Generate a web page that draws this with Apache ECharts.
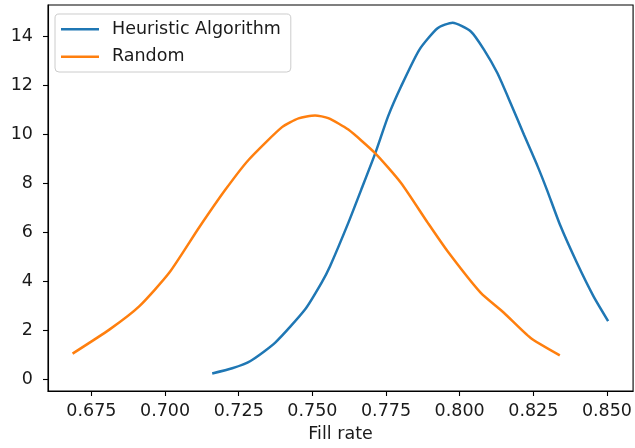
<!DOCTYPE html>
<html>
<head>
<meta charset="utf-8">
<script src="https://cdn.jsdelivr.net/npm/echarts@6/dist/echarts.min.js"></script>
<style>
  html, body { margin: 0; padding: 0; background: #fff; }
  #chart { width: 635px; height: 448px; }
</style>
</head>
<body>
<div id="chart"></div>
<script>
// Density estimates of the fill rate for each strategy
const heuristicX = [0.7160, 0.7228, 0.7290, 0.7374, 0.7475, 0.7531, 0.7560, 0.7622, 0.7666, 0.7714,
                    0.7757, 0.7801, 0.7863, 0.7925, 0.7976, 0.8038, 0.8083, 0.8128, 0.8173, 0.8218,
                    0.8263, 0.8296, 0.8341, 0.8398, 0.8454, 0.8504];
const heuristicY = [0.24, 0.45, 0.75, 1.50, 2.85, 3.94, 4.62, 6.39, 7.75, 9.25,
                    10.74, 11.96, 13.46, 14.34, 14.57, 14.21, 13.46, 12.51, 11.28, 10.00,
                    8.75, 7.75, 6.30, 4.76, 3.40, 2.38];

const randomX = [0.6686, 0.6812, 0.6913, 0.7014, 0.7115, 0.7205, 0.7284, 0.7397, 0.7453, 0.7509,
                 0.7554, 0.7622, 0.7712, 0.7801, 0.7892, 0.7959, 0.8071, 0.8150, 0.8240, 0.8340];
const randomY = [1.05, 2.04, 2.99, 4.35, 6.19, 7.75, 8.97, 10.30, 10.66, 10.78,
                 10.67, 10.20, 9.25, 8.02, 6.39, 5.23, 3.54, 2.72, 1.70, 0.98];

const seriesNames = ['Heuristic Algorithm', 'Random'];
const xTicks = [0.675, 0.700, 0.725, 0.750, 0.775, 0.800, 0.825, 0.850];
const yTicks = [0, 2, 4, 6, 8, 10, 12, 14];
const xLabel = 'Fill rate';

const pairs = (xs, ys) => xs.map((x, i) => [x, ys[i]]);

const font = 'DejaVu Sans';
const ink = '#1a1a1a';
const fs = 17.5;

const chart = echarts.init(document.getElementById('chart'), null, { renderer: 'canvas' });
chart.setOption({
  animation: false,
  backgroundColor: '#fff',
  grid: {
    left: 48, right: -2, top: 5, bottom: 56,
    show: true, borderColor: '#000', borderWidth: 1.1, backgroundColor: 'transparent'
  },
  legend: {
    left: 55, top: 14, orient: 'vertical',
    data: seriesNames,
    icon: 'rect', itemWidth: 38, itemHeight: 2.5, itemGap: 7.4,
    padding: [5.3, 10, 5.3, 6],
    backgroundColor: 'rgba(255,255,255,0.8)',
    borderColor: '#cccccc', borderWidth: 1, borderRadius: 4,
    textStyle: { fontFamily: font, fontSize: fs, color: ink, lineHeight: 20, padding: [0, 0, 0, 8] }
  },
  xAxis: {
    type: 'value',
    min: 0.66026, max: 0.85887,
    name: xLabel, nameLocation: 'middle', nameGap: 34,
    nameTextStyle: { fontFamily: font, fontSize: fs, color: ink },
    axisLine: { onZero: false, lineStyle: { color: '#000', width: 1.1 } },
    axisTick: { customValues: xTicks, length: 5, lineStyle: { color: '#000', width: 1.1 } },
    axisLabel: {
      customValues: xTicks, margin: 11, fontFamily: font, fontSize: fs, color: ink,
      formatter: v => v.toFixed(3)
    },
    splitLine: { show: false }
  },
  yAxis: {
    type: 'value',
    min: -0.477, max: 15.29,
    axisLine: { show: true, onZero: false, lineStyle: { color: '#000', width: 1.1 } },
    axisTick: { show: true, customValues: yTicks, length: 5, lineStyle: { color: '#000', width: 1.1 } },
    axisLabel: {
      customValues: yTicks, margin: 15, fontFamily: font, fontSize: fs, color: ink,
      formatter: v => String(Math.round(v))
    },
    splitLine: { show: false }
  },
  series: [
    {
      name: seriesNames[0], type: 'line', data: pairs(heuristicX, heuristicY),
      symbol: 'none', smooth: 0.2,
      lineStyle: { color: '#1f77b4', width: 2.5 }, itemStyle: { color: '#1f77b4' }
    },
    {
      name: seriesNames[1], type: 'line', data: pairs(randomX, randomY),
      symbol: 'none', smooth: 0.2,
      lineStyle: { color: '#ff7f0e', width: 2.5 }, itemStyle: { color: '#ff7f0e' }
    }
  ]
});
</script>
</body>
</html>
